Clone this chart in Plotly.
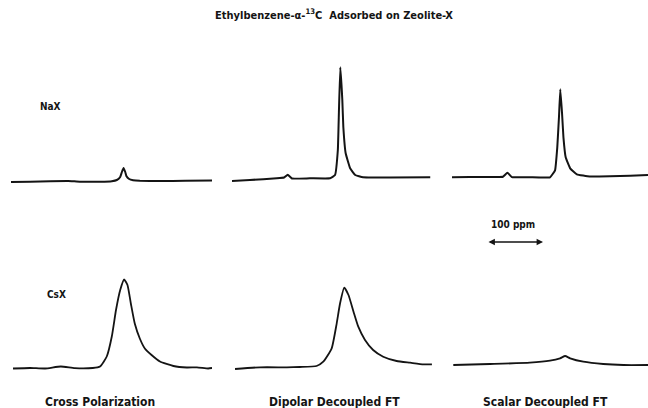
import plotly.graph_objects as go

# ---------------- data (offset in ppm from left edge of each panel, intensity in arb. units) -------------
nax_cp_ppm = [0, 34, 70, 102, 123, 159, 180, 189, 195, 198, 201, 204, 206, 211, 218, 230, 266, 311, 359]
nax_cp_int = [0, 0.3, 0.8, 1.0, 0.3, 0.3, 0.8, 2, 5, 10, 14, 10, 6, 3, 1.8, 1.2, 1.0, 1.2, 1.5]

nax_dd_ppm = [0, 32, 80, 93, 99.5, 107, 139, 175, 184, 189, 191, 193.4, 197, 198.8, 203, 211, 220, 234, 282, 354]
nax_dd_int = [0, 1, 2.7, 3.5, 6.3, 2.5, 2.7, 2.7, 6, 31, 71, 113.7, 81, 54, 27.7, 12.7, 6, 3.7, 3.5, 3.7]

nax_sd_ppm = [0, 32, 68, 91, 99, 107, 139, 175, 184, 188, 191, 193.4, 196.5, 199, 203, 211, 223, 246, 282, 318, 350]
nax_sd_int = [0, 0.2, 0.3, 0.5, 4.6, 0.2, 0, 0, 7, 30, 60, 88, 64, 40, 20, 9, 3, 0.8, 1.0, 1.6, 2.3]

csx_cp_ppm = [3.6, 34, 61, 89, 114, 146, 159, 171, 180, 187.5, 195, 202, 208, 214, 221, 230, 239, 251, 266, 290, 314, 332, 352, 359]
csx_cp_int = [0, 0.5, 0, 2, 0.3, 0.5, 2, 12, 32, 58.5, 78.5, 89, 83.5, 65, 45, 30, 20, 13.5, 7, 2.5, 1, 1.2, 0, 0.5]

csx_dd_ppm = [5.4, 50, 98, 121, 151, 163, 178, 187, 193, 200.5, 208, 217, 225.5, 237.5, 252, 270, 294, 318, 342, 357]
csx_dd_int = [0, 1.7, 1.7, 2, 3, 7.3, 20.7, 45.7, 65.7, 81.3, 74, 57.3, 42.3, 29, 19, 12.3, 8, 6.3, 4.7, 4.7]

csx_sd_ppm = [2.3, 68, 139, 175, 193, 202, 211, 234.5, 270, 306, 350]
csx_sd_int = [0, 1, 2.3, 4.3, 6.7, 9, 6.7, 3.3, 1, 0, 0]

row_labels = ["NaX", "CsX"]
col_labels = ["Cross Polarization", "Dipolar Decoupled FT", "Scalar Decoupled FT"]
title_text = "Ethylbenzene-\u03b1-<sup>13</sup>C  Adsorbed on Zeolite-X"
scale_bar_ppm = 100
scale_label = "100 ppm"

# ---------------- layout helpers (pixels of a 648x408 page) -------------
W, H = 648, 408
PX_PER_PPM = 0.56

def fx(px):
    return px / W

def fy(py):
    return 1 - py / H

col_px = [(11, 212), (232, 433), (452, 648)]
row_py = [(50, 190), (265, 380)]
baselines = [[182, 181, 177.3], [368.5, 369, 365]]

series = [
    [(nax_cp_ppm, nax_cp_int), (nax_dd_ppm, nax_dd_int), (nax_sd_ppm, nax_sd_int)],
    [(csx_cp_ppm, csx_cp_int), (csx_dd_ppm, csx_dd_int), (csx_sd_ppm, csx_sd_int)],
]

fig = go.Figure()
layout = {}
ink = "#141414"
n = 0
for r in range(2):
    for c in range(3):
        n += 1
        xs, ys = series[r][c]
        sfx = "" if n == 1 else str(n)
        fig.add_trace(go.Scatter(
            x=xs, y=ys, mode="lines",
            line=dict(color=ink, width=2.0 if r == 0 else 1.8, shape="spline",
                      smoothing=0.3 if r == 0 else 0.5),
            xaxis="x" + sfx, yaxis="y" + sfx, showlegend=False, hoverinfo="skip"))
        x0, x1 = col_px[c]
        t, b = row_py[r]
        base = baselines[r][c]
        layout["xaxis" + sfx] = dict(domain=[fx(x0), fx(x1)], range=[0, (x1 - x0) / PX_PER_PPM],
                                     visible=False, anchor="y" + sfx)
        layout["yaxis" + sfx] = dict(domain=[fy(b), fy(t)], range=[-(b - base), base - t],
                                     visible=False, anchor="x" + sfx)

fig.update_layout(**layout)

font_main = "Liberation Sans Narrow, DejaVu Sans Condensed, Arial Narrow, sans-serif"

def label(text, px, py, size=11):
    return dict(text="<b>" + text + "</b>", x=fx(px), y=fy(py), xref="paper", yref="paper",
                xanchor="center", yanchor="middle", showarrow=False,
                font=dict(size=size, color=ink, family=font_main))

ann = [label(title_text, 334, 15),
       label(row_labels[0], 50, 107, size=10),
       label(row_labels[1], 56, 294, size=10)]
for cx, lab in zip([100, 334, 545], col_labels):
    ann.append(label(lab, cx, 402, size=12))
ann.append(label(scale_label, 513, 224, size=10))
# scale bar arrow, 100 ppm on the third-column axis
bar_start = 62.5
ann.append(dict(text="", x=bar_start + scale_bar_ppm, y=fy(242), xref="x3", yref="paper",
                ax=bar_start, ay=0, axref="x3", ayref="pixel",
                showarrow=True, arrowhead=2, arrowside="end+start", arrowsize=0.8,
                arrowwidth=1.6, arrowcolor=ink))

fig.update_layout(annotations=ann, width=W, height=H, margin=dict(l=0, r=0, t=0, b=0),
                  paper_bgcolor="white", plot_bgcolor="white")

fig.write_html("out.html")
